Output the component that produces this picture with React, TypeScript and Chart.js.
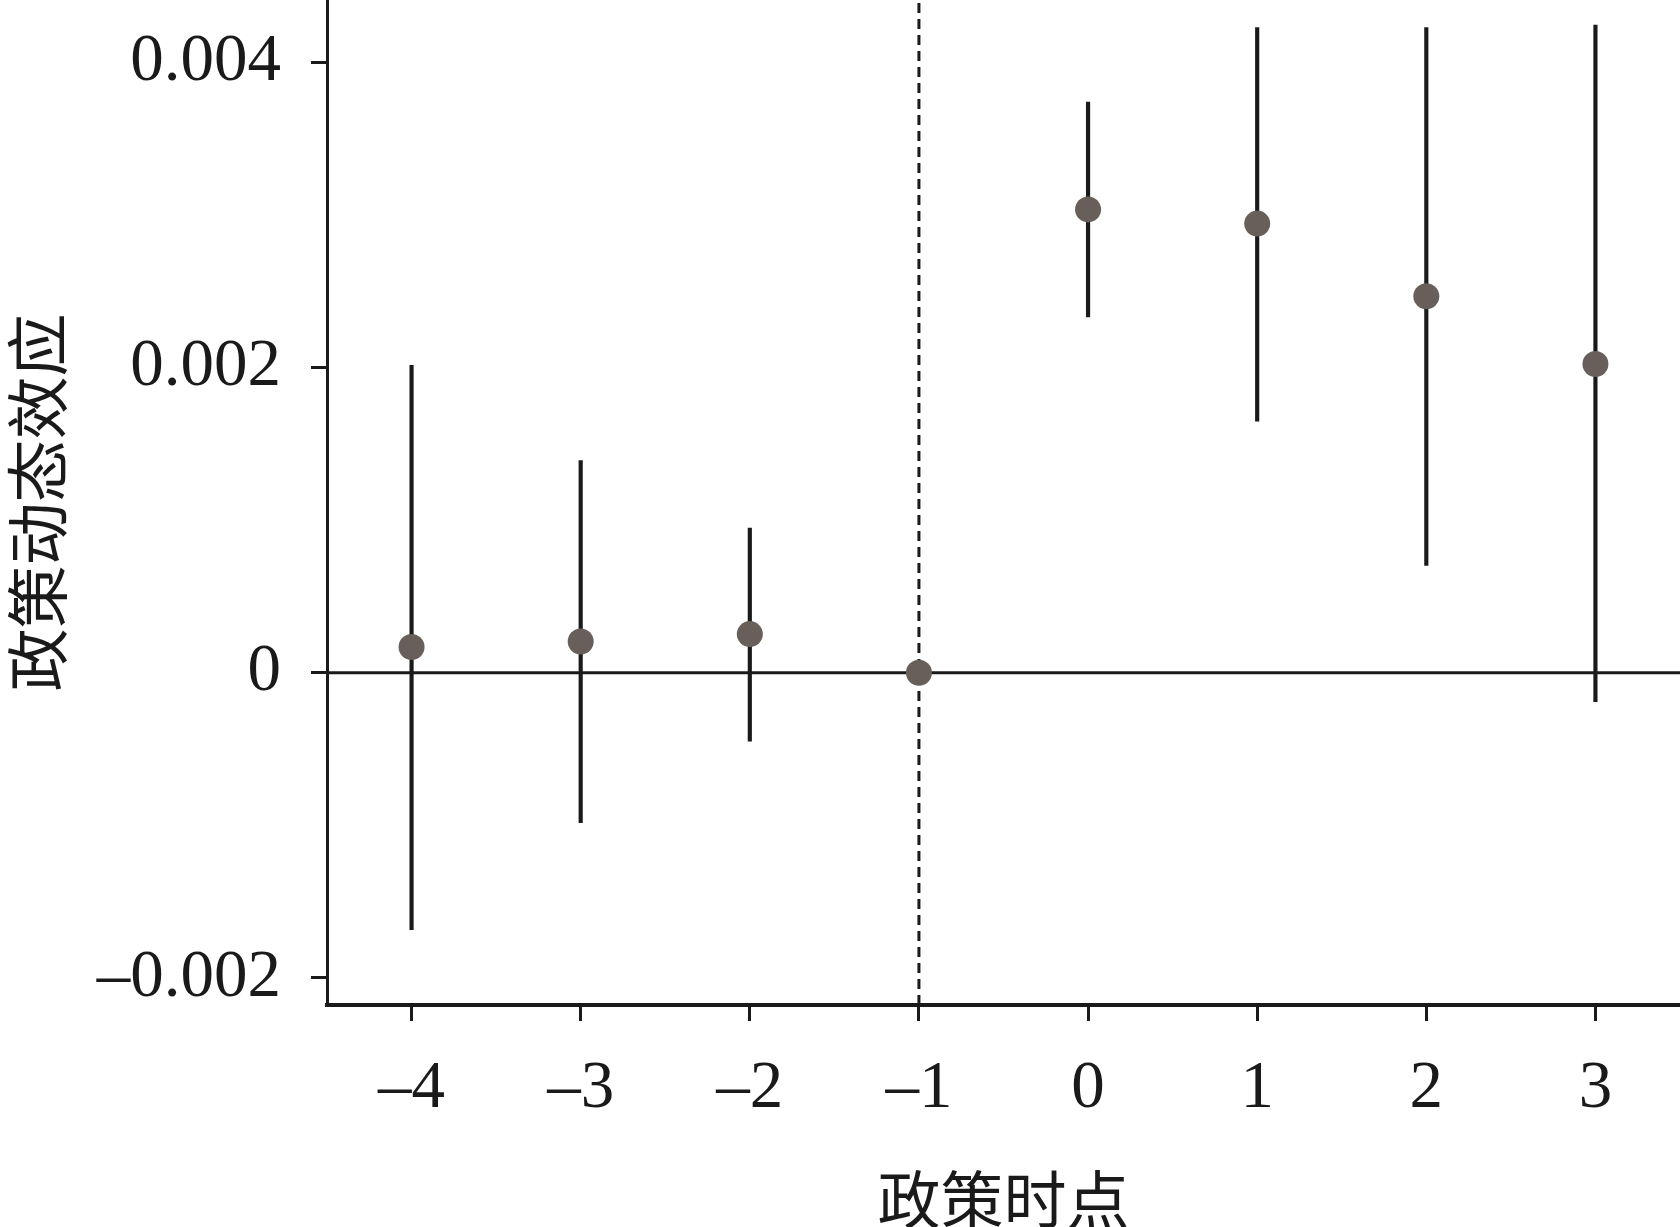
import React, { useEffect, useRef } from 'react';
import { Chart, registerables } from 'chart.js';

Chart.register(...registerables);

// ---- data ----
const periods = [-4, -3, -2, -1, 0, 1, 2, 3];
const estimates = [0.000168, 0.000204, 0.000253, 0, 0.003035, 0.002942, 0.002466, 0.002022];
const ciLower: (number | null)[] = [-0.001684, -0.000982, -0.000449, null, 0.00233, 0.001648, 0.000702, -0.00019];
const ciUpper: (number | null)[] = [0.002014, 0.00139, 0.000947, null, 0.003738, 0.004227, 0.004227, 0.004243];

const xTickValues = [-4, -3, -2, -1, 0, 1, 2, 3];
const xTickLabels = ['–4', '–3', '–2', '–1', '0', '1', '2', '3'];
const yTickValues = [-0.002, 0, 0.002, 0.004];
const yTickLabels = ['–0.002', '0', '0.002', '0.004'];

const referencePeriod = -1;
const xMin = -4.5;
const xMax = 3.5;
const yMin = -0.002177;
const yMax = 0.004407;

const xTitle = '政策时点';
const yTitle = '政策动态效应';

const INK = '#1a1a1a';
const POINT = '#685f5a';
const SERIF = '"Liberation Serif", "Times New Roman", serif';
const CJK = '"Noto Sans CJK SC", sans-serif';

const zeroPadding = (s: any) => {
  s.paddingTop = 0;
  s.paddingBottom = 0;
  s.paddingLeft = 0;
  s.paddingRight = 0;
};

export default function App() {
  const ref = useRef<HTMLCanvasElement | null>(null);

  useEffect(() => {
    document.body.style.margin = '0';
    const canvas = ref.current;
    if (!canvas) return;

    const ciData = periods
      .map((p, i) => ({ x: p, y: [ciLower[i], ciUpper[i]] }))
      .filter((d) => d.y[0] !== null && d.y[1] !== null);

    const chart = new Chart(canvas, {
      type: 'scatter',
      data: {
        datasets: [
          {
            type: 'line',
            data: [
              { x: xMin, y: 0 },
              { x: xMax, y: 0 },
            ],
            borderColor: INK,
            borderWidth: 3,
            pointRadius: 0,
            order: 3,
          } as any,
          {
            type: 'line',
            data: [
              { x: referencePeriod, y: yMin },
              { x: referencePeriod, y: yMax },
            ],
            borderColor: INK,
            borderWidth: 3,
            borderDash: [10, 6],
            pointRadius: 0,
            order: 3,
          } as any,
          {
            type: 'bar',
            data: ciData,
            backgroundColor: INK,
            borderWidth: 0,
            barThickness: 3.5,
            grouped: false,
            order: 2,
          } as any,
          {
            type: 'scatter',
            data: periods.map((p, i) => ({ x: p, y: estimates[i] })),
            backgroundColor: POINT,
            borderColor: POINT,
            borderWidth: 0,
            pointRadius: 13,
            pointHoverRadius: 13,
            order: 1,
          } as any,
        ],
      },
      options: {
        responsive: false,
        animation: false,
        layout: { padding: 0, autoPadding: false },
        plugins: {
          legend: { display: false },
          tooltip: { enabled: false },
          title: { display: false },
        },
        scales: {
          x: {
            type: 'linear',
            min: xMin,
            max: xMax,
            offset: false,
            afterBuildTicks: (s: any) => {
              s.ticks = xTickValues.map((v) => ({ value: v }));
            },
            afterFit: (s: any) => {
              s.height = 222;
              zeroPadding(s);
            },
            grid: {
              display: true,
              offset: false,
              drawOnChartArea: false,
              drawTicks: true,
              tickLength: 16,
              tickWidth: 3,
              tickColor: INK,
            },
            border: { display: true, width: 4, color: INK },
            ticks: {
              autoSkip: false,
              maxRotation: 0,
              padding: 28,
              color: INK,
              font: { family: SERIF, size: 67, lineHeight: 1.2 },
              callback: (v: any) => {
                const i = xTickValues.indexOf(Number(v));
                return i >= 0 ? xTickLabels[i] : '';
              },
            },
            title: {
              display: true,
              text: xTitle,
              color: INK,
              font: { family: CJK, size: 63, lineHeight: 1 },
              padding: { top: 0, bottom: -4 },
            },
          },
          y: {
            type: 'linear',
            min: yMin,
            max: yMax,
            afterBuildTicks: (s: any) => {
              s.ticks = yTickValues.map((v) => ({ value: v }));
            },
            afterFit: (s: any) => {
              s.width = 327;
              zeroPadding(s);
            },
            grid: {
              display: true,
              offset: false,
              drawOnChartArea: false,
              drawTicks: true,
              tickLength: 16,
              tickWidth: 3,
              tickColor: INK,
            },
            border: { display: true, width: 3, color: INK },
            ticks: {
              autoSkip: false,
              padding: 30,
              color: INK,
              font: { family: SERIF, size: 67, lineHeight: 1.2 },
              callback: (v: any) => {
                const i = yTickValues.findIndex((t) => Math.abs(t - Number(v)) < 1e-9);
                return i >= 0 ? yTickLabels[i] : '';
              },
            },
            title: {
              display: true,
              text: yTitle,
              color: INK,
              font: { family: CJK, size: 63, lineHeight: 1 },
              padding: { top: 6, bottom: 0 },
            },
          },
        },
      } as any,
    });

    return () => chart.destroy();
  }, []);

  return (
    <div style={{ position: 'absolute', left: 0, top: 0, width: 1680, height: 1227, background: '#fff' }}>
      <canvas ref={ref} width={1680} height={1227} style={{ display: 'block', width: 1680, height: 1227 }} />
    </div>
  );
}
